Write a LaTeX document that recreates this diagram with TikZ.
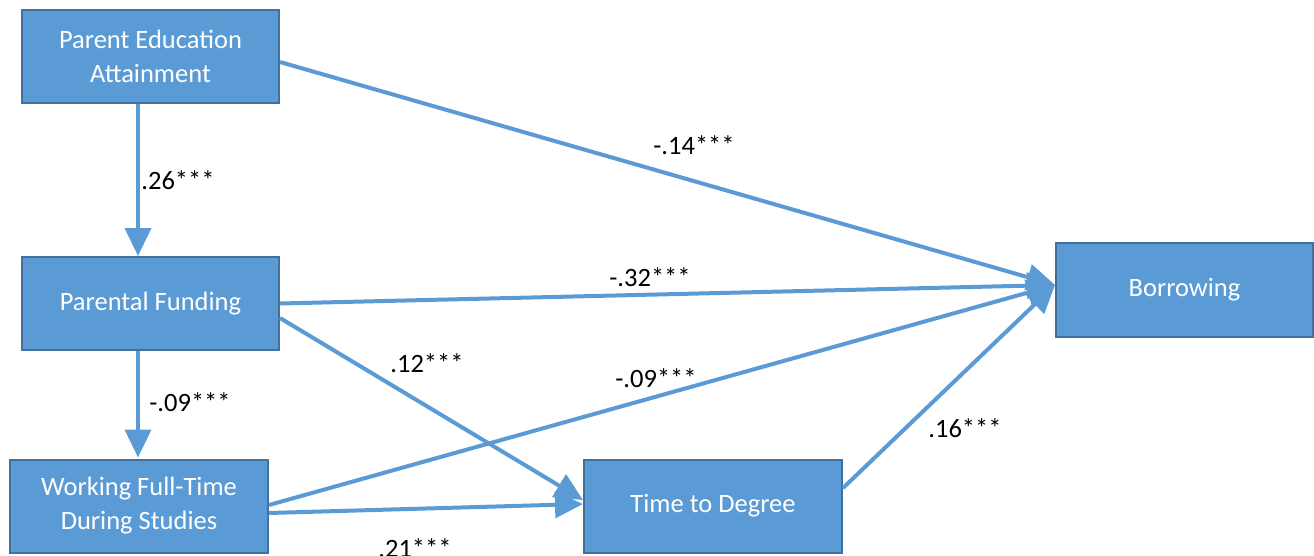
\documentclass[tikz,border=0pt]{standalone}
\usepackage{fontspec}
\setmainfont{Carlito}
\usetikzlibrary{arrows.meta}
\definecolor{boxfill}{HTML}{5B9BD5}
\definecolor{boxline}{HTML}{41719C}
\tikzset{
  var/.style={draw=boxline, line width=2pt, fill=boxfill, text=white,
    minimum width=257pt, minimum height=93pt, inner sep=0pt, align=center,
    font=\fontsize{26.5}{34}\selectfont},
  path/.style={draw=boxfill, line width=4pt,
    -{Triangle[length=28pt, width=26pt]}},
  coef/.style={font=\fontsize{26.5}{32}\selectfont, inner sep=0pt}
}
\begin{document}
\begin{tikzpicture}[x=1pt, y=-1pt]
  \useasboundingbox (0,0) rectangle (1314,556);
  \clip (0,0) rectangle (1314,556);

  % variables
  \node[var] (pea) at (150.5,56.5) {Parent Education\\Attainment};
  \node[var] (pf)  at (150.5,303.5) {Parental Funding};
  \node[var, minimum width=258pt] (wft) at (139,506) {Working Full-Time\\During Studies};
  \node[var, minimum width=258pt] (ttd) at (713,506) {Time to Degree};
  \node[var, minimum height=94pt] (bor) at (1184.5,290) {Borrowing};

  % entry points of the incoming paths
  \coordinate (bin) at ([yshift=5pt]bor.west);
  \coordinate (tin1) at ([yshift=6pt]ttd.west);
  \coordinate (tin2) at ([yshift=2pt]ttd.west);

  % paths
  \draw[path] ([xshift=-12.5pt]pea.south) -- ([xshift=-12.5pt]pf.north);
  \draw[path] ([xshift=-12.5pt]pf.south) -- ([xshift=-1pt,yshift=1pt]wft.north);
  \draw[path] ([yshift=-5.5pt]pea.east) -- (bin);
  \draw[path] (pf.east) -- (bin);
  \draw[path] ([yshift=-14.5pt]pf.east) -- (tin1);
  \draw[path] ([yshift=1pt]wft.east) -- (bin);
  \draw[path] ([yshift=-7pt]wft.east) -- (tin2);
  \draw[path] ([yshift=18pt]ttd.east) -- (bin);

  % coefficients
  \node[coef] (c1) at (178,180) {.26***};
  \node[coef] (c2) at (694,145) {-.14***};
  \node[coef] (c3) at (650,277) {-.32***};
  \node[coef] (c4) at (427,363) {.12***};
  \node[coef] (c5) at (190,402) {-.09***};
  \node[coef] (c6) at (656,378) {-.09***};
  \node[coef] (c7) at (965,428) {.16***};
  \node[coef] (c8) at (415,548) {.21***};
\end{tikzpicture}
\end{document}
